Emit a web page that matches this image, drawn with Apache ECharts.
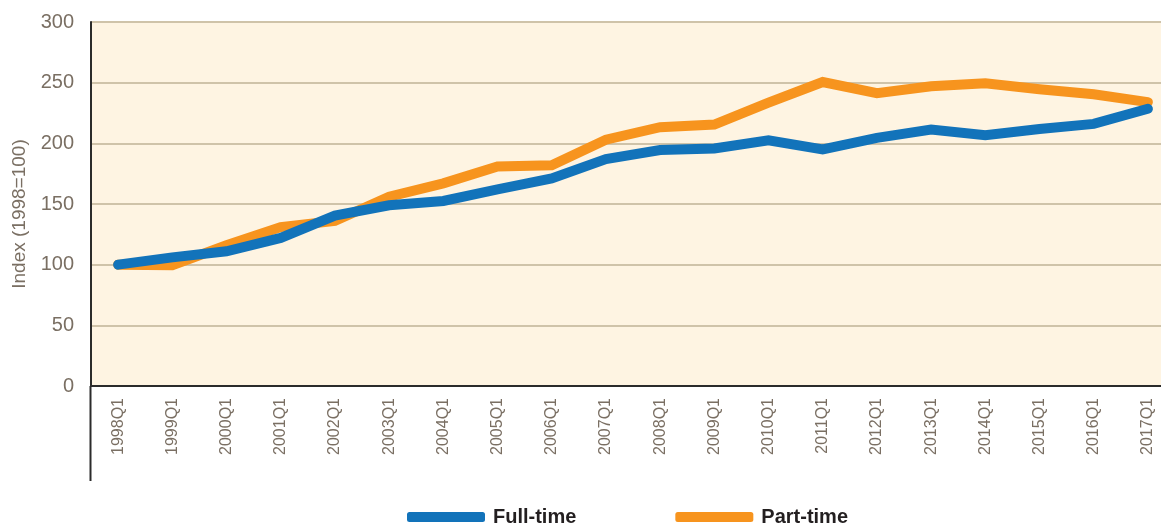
<!DOCTYPE html>
<html><head><meta charset="utf-8">
<script src="https://cdn.jsdelivr.net/npm/echarts@6/dist/echarts.min.js"></script>
<style>html,body{margin:0;padding:0;background:#fff}#c{width:1161px;height:526px}</style>
</head><body><div id="c"></div>
<script>
const categories = ['1998Q1','1999Q1','2000Q1','2001Q1','2002Q1','2003Q1','2004Q1','2005Q1','2006Q1','2007Q1','2008Q1','2009Q1','2010Q1','2011Q1','2012Q1','2013Q1','2014Q1','2015Q1','2016Q1','2017Q1'];
const fullTime = [100,106,111,122,140.5,149,152.5,162,171,187,194.5,195.7,202.5,195,204.5,211.4,206.6,211.8,216,228.5];
const partTime = [100,99.5,116,131,136,156,167,181,182,203,213.3,215.5,233.5,250.5,241.3,247,249.5,244.6,240.5,234];
const yTicks = {min:0, max:300, interval:50};

const chart = echarts.init(document.getElementById('c'));
const font = '"Liberation Sans Narrow", "Liberation Sans", Arial, sans-serif';
chart.setOption({
  animation:false,
  grid:{left:91, width:1084, top:22, height:364, show:true, backgroundColor:'#FEF4E2', borderWidth:0, outerBoundsMode:'none', containLabel:false},
  legend:{
    top:502, left:402, itemWidth:78, itemHeight:10, itemGap:99,
    icon:'roundRect',
    textStyle:{fontFamily:font, fontWeight:'bold', fontSize:20, color:'#231F20', padding:[0,0,0,3]},
    data:['Full-time','Part-time']
  },
  xAxis:{
    type:'category', data:categories, boundaryGap:true,
    axisLine:{lineStyle:{color:'#2b2b2b', width:2}},
    axisTick:{show:false},
    axisLabel:{rotate:90, interval:0, margin:12, fontFamily:font, fontSize:16, color:'#7a6f63'},
    splitLine:{show:false}
  },
  yAxis:{
    type:'value', min:yTicks.min, max:yTicks.max, interval:yTicks.interval,
    name:'Index (1998=100)', nameLocation:'middle', nameGap:62, nameRotate:90,
    nameTextStyle:{fontFamily:font, fontSize:19, color:'#7a6f63', padding:[0,0,0,-20]},
    axisLine:{show:true, lineStyle:{color:'#2b2b2b', width:2}},
    axisTick:{show:false},
    axisLabel:{margin:17, fontFamily:font, fontSize:20, color:'#7a6f63'},
    splitLine:{lineStyle:{color:'#CFC3A9', width:2}}
  },
  graphic:[{type:'line', shape:{x1:90.5, y1:386, x2:90.5, y2:481}, style:{stroke:'#2b2b2b', lineWidth:2}, z:100}],
  series:[
    {name:'Part-time', type:'line', data:partTime, symbol:'none', z:2,
      itemStyle:{color:'#F7941E'},
      lineStyle:{color:'#F7941E', width:10, cap:'round', join:'miter'}},
    {name:'Full-time', type:'line', data:fullTime, symbol:'none', z:3,
      itemStyle:{color:'#1273BA'},
      lineStyle:{color:'#1273BA', width:10, cap:'round', join:'miter'}}
  ]
});
</script></body></html>
